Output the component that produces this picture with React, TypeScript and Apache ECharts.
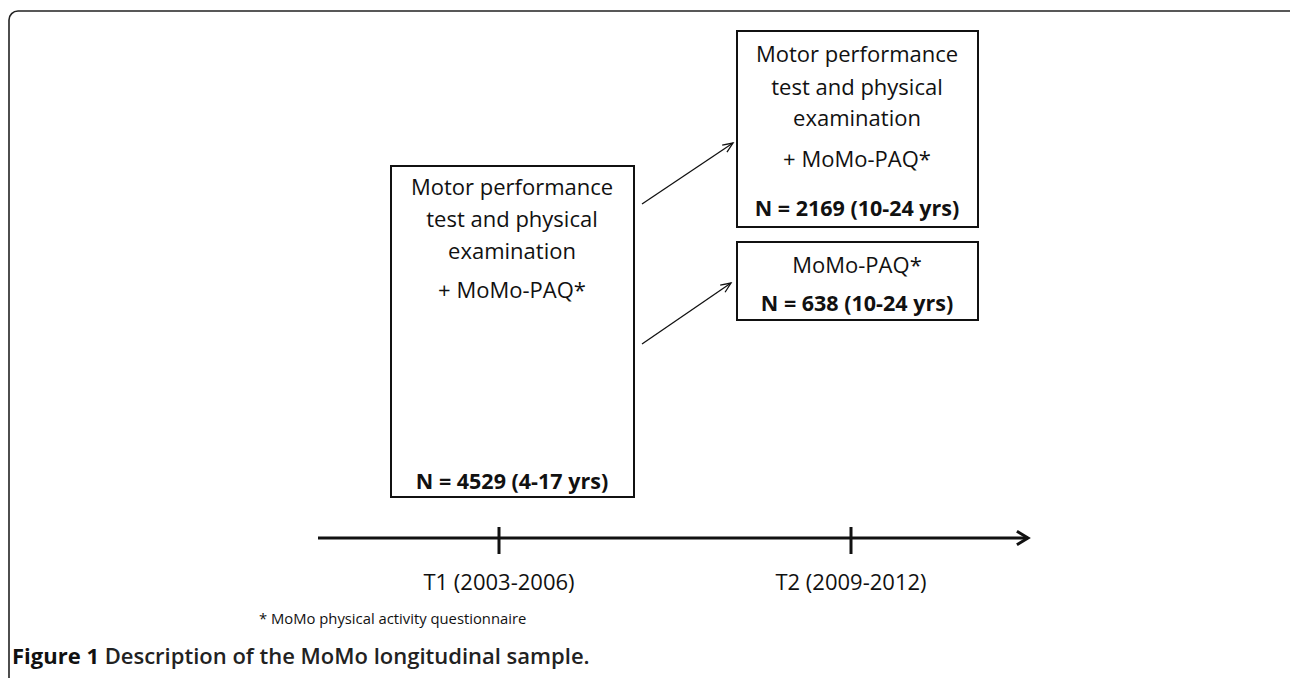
import React, { useEffect, useRef } from "react";
import * as echarts from "echarts";

// ---- content ----
const baselineLines = ["Motor performance", "test and physical", "examination", "+ MoMo-PAQ*"];
const baselineN = "N = 4529 (4-17 yrs)";
const followFullLines = ["Motor performance", "test and physical", "examination", "+ MoMo-PAQ*"];
const followFullN = "N = 2169 (10-24 yrs)";
const followPaqLines = ["MoMo-PAQ*"];
const followPaqN = "N = 638 (10-24 yrs)";
const timeLabels = ["T1 (2003-2006)", "T2 (2009-2012)"];
const footnote = "* MoMo physical activity questionnaire";
const captionBold = "Figure 1";
const captionRest = " Description of the MoMo longitudinal sample.";

const FONT = "'Open Sans', 'Noto Sans', sans-serif";
const INK = "#111";

function txt(text: string, x: number, y: number, size: number, bold = false, align: any = "center") {
  return {
    type: "text",
    x,
    y,
    style: {
      text,
      fill: INK,
      font: `${bold ? "bold " : ""}${size}px ${FONT}`,
      textAlign: align,
      textVerticalAlign: "middle",
    },
  };
}

function arrow(x1: number, y1: number, x2: number, y2: number, head: number, lw: number, spread = 0.45) {
  const a = Math.atan2(y2 - y1, x2 - x1);
  const p1 = [x2 - head * Math.cos(a - spread), y2 - head * Math.sin(a - spread)];
  const p2 = [x2 - head * Math.cos(a + spread), y2 - head * Math.sin(a + spread)];
  return [
    { type: "line", shape: { x1, y1, x2, y2 }, style: { stroke: INK, lineWidth: lw } },
    {
      type: "polyline",
      shape: { points: [p1, [x2, y2], p2] },
      style: { stroke: INK, lineWidth: lw, fill: null, lineJoin: "miter" },
    },
  ];
}

export default function App() {
  const ref = useRef<HTMLDivElement>(null);
  useEffect(() => {
    document.body.style.margin = "0";
    const chart = echarts.init(ref.current!, null, { renderer: "svg" });
    const els: any[] = [];
    // frame
    els.push({
      type: "rect",
      shape: { x: 9, y: 11, width: 1400, height: 800, r: [9, 0, 0, 0] },
      style: { fill: null, stroke: "#222", lineWidth: 1.6 },
    });
    // boxes
    const boxStyle = { fill: "#fff", stroke: INK, lineWidth: 2 };
    els.push({ type: "rect", shape: { x: 391, y: 166, width: 243, height: 331 }, style: boxStyle });
    els.push({ type: "rect", shape: { x: 737, y: 31, width: 241, height: 196 }, style: boxStyle });
    els.push({ type: "rect", shape: { x: 737, y: 242, width: 241, height: 78 }, style: boxStyle });

    const FS = 22;
    const lx = 512;
    const lys = [186, 218, 250, 289];
    baselineLines.forEach((t, i) => els.push(txt(t, lx, lys[i], FS)));
    els.push(txt(baselineN, lx, 480, 21.5, true));

    const rx = 857;
    const rys = [53, 86, 117, 158];
    followFullLines.forEach((t, i) => els.push(txt(t, rx, rys[i], FS)));
    els.push(txt(followFullN, rx, 207, 21.5, true));

    followPaqLines.forEach((t) => els.push(txt(t, rx, 264, FS)));
    els.push(txt(followPaqN, rx, 302, 21.5, true));

    // arrows between boxes
    els.push(...arrow(642, 204, 733, 143, 11, 1.3, 0.4));
    els.push(...arrow(642, 344, 731, 283, 11, 1.3, 0.4));

    // timeline
    els.push(...arrow(318, 538, 1028, 538, 13, 3, 0.55));
    const ticks = [499, 851];
    ticks.forEach((x) =>
      els.push({ type: "line", shape: { x1: x, y1: 527, x2: x, y2: 554 }, style: { stroke: INK, lineWidth: 3 } })
    );
    timeLabels.forEach((t, i) => els.push(txt(t, ticks[i], 581, 22)));

    els.push(txt(footnote, 259, 618, 14.8, false, "left"));

    els.push({
      type: "text",
      x: 12,
      y: 655,
      style: {
        text: `{b|${captionBold}}{r|${captionRest}}`,
        textVerticalAlign: "middle",
        rich: {
          b: { font: `bold 22px ${FONT}`, fill: INK },
          r: { font: `600 22px ${FONT}`, fill: "#222" },
        },
      },
    });

    chart.setOption({ animation: false, graphic: { elements: els } });
    return () => chart.dispose();
  }, []);
  return <div ref={ref} style={{ width: 1290, height: 678, background: "#fff" }} />;
}
